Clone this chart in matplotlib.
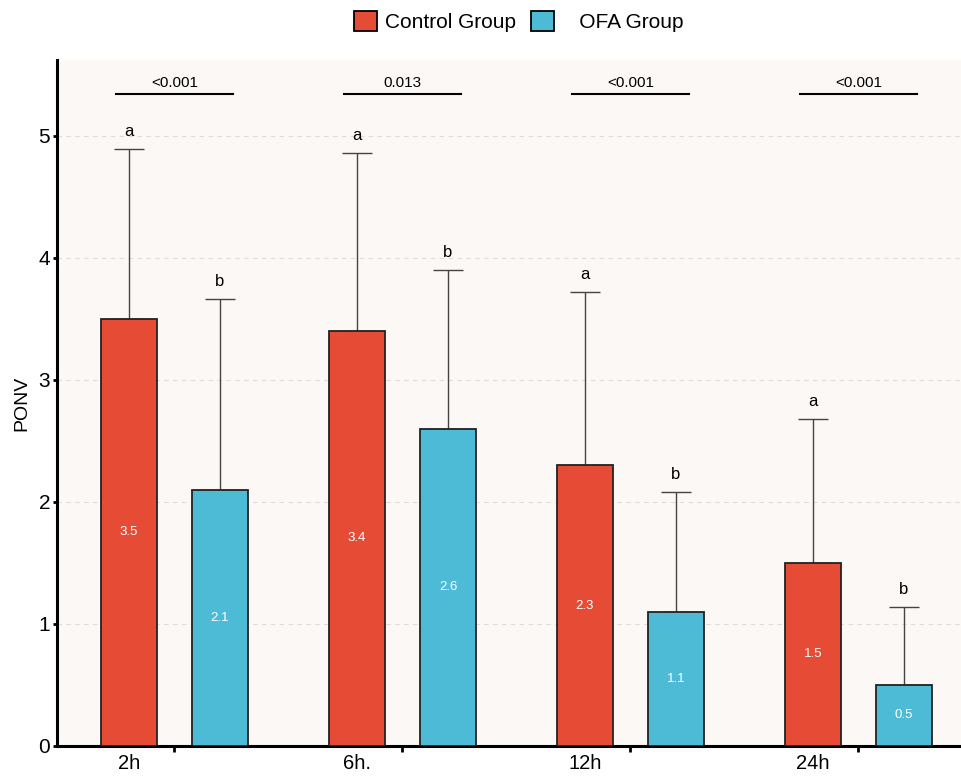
import numpy as np
import matplotlib.pyplot as plt
from matplotlib.patches import Patch

plt.rcParams['font.family'] = ['Liberation Sans', 'DejaVu Sans']

times = ['2h', '6h.', '12h', '24h']
control_mean = [3.5, 3.4, 2.3, 1.5]
control_sd = [1.39, 1.46, 1.42, 1.18]
ofa_mean = [2.1, 2.6, 1.1, 0.5]
ofa_sd = [1.56, 1.30, 0.98, 0.64]
p_values = ['<0.001', '0.013', '<0.001', '<0.001']
control_letters = ['a', 'a', 'a', 'a']
ofa_letters = ['b', 'b', 'b', 'b']

red = '#E64B35'
blue = '#4DBBD5'

fig = plt.figure(figsize=(9.61, 7.79), dpi=100)
ax = fig.add_axes([0.0593, 0.0424, 0.9407, 0.8806])
ax.set_facecolor('#fcf8f5')

x = np.arange(len(times))
off = 0.2
w = 0.245

ax.bar(x - off, control_mean, w, color=red, edgecolor='#222222', linewidth=1.3, zorder=3)
ax.bar(x + off, ofa_mean, w, color=blue, edgecolor='#222222', linewidth=1.3, zorder=3)

# upper error bars only
ax.errorbar(x - off, control_mean, yerr=[np.zeros(4), control_sd], fmt='none',
            ecolor='#444444', elinewidth=1, capsize=11, capthick=1, zorder=2)
ax.errorbar(x + off, ofa_mean, yerr=[np.zeros(4), ofa_sd], fmt='none',
            ecolor='#444444', elinewidth=1, capsize=11, capthick=1, zorder=2)

for i in range(len(times)):
    ax.text(x[i] - off, control_mean[i] / 2, f'{control_mean[i]:.1f}', color='white',
            ha='center', va='center', fontsize=9.5, zorder=4)
    ax.text(x[i] + off, ofa_mean[i] / 2, f'{ofa_mean[i]:.1f}', color='white',
            ha='center', va='center', fontsize=9.5, zorder=4)
    ax.text(x[i] - off, control_mean[i] + control_sd[i] + 0.08, control_letters[i],
            ha='center', va='bottom', fontsize=12)
    ax.text(x[i] + off, ofa_mean[i] + ofa_sd[i] + 0.08, ofa_letters[i],
            ha='center', va='bottom', fontsize=12)
    # significance bracket
    ax.plot([x[i] - off - 0.055, x[i] + off + 0.055], [5.34, 5.34], color='black', lw=1.5)
    ax.text(x[i], 5.37, p_values[i], ha='center', va='bottom', fontsize=11)

ax.set_xlim(-0.515, 3.45)
ax.set_ylim(0, 5.62)
ax.set_yticks(range(6))
ax.yaxis.grid(True, linestyle=(0, (4, 4)), color='#dddddd', linewidth=0.8, zorder=0)
ax.set_axisbelow(True)

# group labels sit under the control bars, tick marks at group centres
ax.set_xticks(x - off)
ax.set_xticklabels(times)
ax.tick_params(axis='x', length=0, labelsize=14.5, pad=6)
ax.set_xticks(x, minor=True)
ax.tick_params(axis='x', which='minor', length=4, width=2, direction='out')
ax.tick_params(axis='y', length=3, width=2, labelsize=15, pad=2)

for s in ['top', 'right']:
    ax.spines[s].set_visible(False)
for s in ['left', 'bottom']:
    ax.spines[s].set_linewidth(2.2)

ax.set_ylabel('PONV', fontsize=14, labelpad=6)

handles = [Patch(facecolor=red, edgecolor='black', linewidth=1.3),
           Patch(facecolor=blue, edgecolor='black', linewidth=1.3)]
fig.legend(handles, ['Control Group', '   OFA Group'], loc='center', ncol=2,
           bbox_to_anchor=(0.54, 0.972), frameon=False, fontsize=15,
           handlelength=1.1, handleheight=1.1, handletextpad=0.4, columnspacing=0.7)

fig.savefig('out.png', dpi=100)
